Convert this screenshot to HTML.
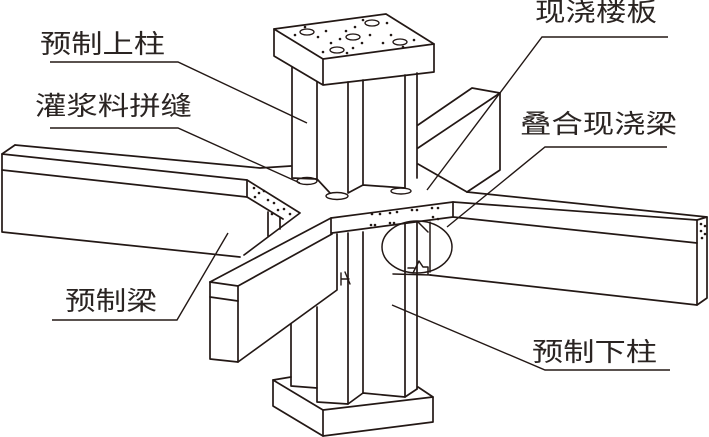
<!DOCTYPE html>
<html><head><meta charset="utf-8"><style>
html,body{margin:0;padding:0;background:#fff;}
svg{display:block;}
text{font-family:"Liberation Sans","Noto Sans CJK SC",sans-serif;fill:#2a2422;}
</style></head><body>
<svg width="709" height="437" viewBox="0 0 709 437" xmlns="http://www.w3.org/2000/svg">
<rect width="709" height="437" fill="#fff"/>
<g stroke="#231815" stroke-width="1.7" fill="none" stroke-linejoin="round" stroke-linecap="round">
<!-- cap -->
<polygon points="274,29 386,14 434,44 323,59"/>
<path d="M274,29 V56 L323,85 L434,72 V44 M323,59 V85"/>
<g stroke-width="1.3">
<ellipse cx="307" cy="32" rx="7" ry="3"/>
<ellipse cx="353" cy="37" rx="7" ry="3"/>
<ellipse cx="372" cy="23" rx="7" ry="3"/>
<ellipse cx="337" cy="50" rx="7" ry="3"/>
<ellipse cx="400" cy="42" rx="7" ry="3"/>
</g>
<!-- upper column -->
<path d="M292,67 V178 L317,179 M317,82 V179 L330,193 M348,82 V193 L363,185 M363,80 V185 L405,188 M405,75 V188 M417,73 V178"/>
<ellipse cx="307" cy="181" rx="10" ry="3.5" stroke-width="1.4"/>
<ellipse cx="337" cy="196" rx="11" ry="3.5" stroke-width="1.4"/>
<ellipse cx="401" cy="191" rx="10" ry="3" stroke-width="1.4"/>
<!-- left beam -->
<path d="M15,145 L260,168 L291,166"/>
<path d="M15,145 L2,154 L247,180 L300,213 L244,255"/>
<path d="M2,154 V232 L240,257"/>
<path d="M2,170 L247,197"/>
<path d="M247,180 V197 L283,219"/>
<path d="M268,212 V236 M280,218 V229"/>
<!-- front-left beam -->
<path d="M210,282 L331,218 V234"/>
<path d="M210,282 L238,286 L332,234"/>
<path d="M210,282 V359 L238,362 V286"/>
<path d="M210,297 L238,301"/>
<path d="M238,362 L337,290 V234"/>
<!-- band on joint -->
<path d="M331,218 L453,202 V217 L332,233"/>
<!-- right beam -->
<path d="M467,192 L707,217 L697,220 L453,202"/>
<path d="M453,217 L697,243"/>
<path d="M430,275 L697,305 L707,298 V217"/>
<path d="M697,220 V305"/>
<!-- back-right beam -->
<path d="M418,125 L472,88 L500,93 V170 L467,192"/>
<path d="M418,148 L500,93"/>
<path d="M418,164 L467,192"/>
<!-- highlight ellipse -->
<ellipse cx="417" cy="247" rx="35" ry="26" stroke-width="1.5"/>
<path d="M430,222 V272 M418,222 L428,232 M393,274 L431,275" stroke-width="1.5"/>
<path d="M413,273 L419,261 L423,267 L428,267 L428,274 M408,268 L414,268" stroke-width="1.5"/>
<!-- lower column -->
<path d="M291,324 V386 L317,388 V402 L348,404 L363,393 L405,397 L417,389"/>
<path d="M317,307 V388 M348,233 V404 M363,232 V393 M405,223 V397 M417,222 V389"/>
<path d="M341,285 V273 M341,279 H349 M345,272 L350,284" stroke-width="1.4"/>
<!-- base plate -->
<path d="M291,377 L273,380 L323,410 L433,397 L418,387"/>
<path d="M273,380 V406 L323,436 L433,422 V397"/>
<path d="M323,410 V436"/>
</g>
<!-- dots -->
<g fill="#231815">
<circle cx="295" cy="35" r="1.3"/><circle cx="318" cy="37" r="1.3"/><circle cx="326" cy="31" r="1.3"/><circle cx="305" cy="27" r="1.3"/>
<circle cx="346" cy="31" r="1.3"/><circle cx="355" cy="27" r="1.3"/><circle cx="362" cy="43" r="1.3"/><circle cx="370" cy="35" r="1.3"/>
<circle cx="387" cy="23" r="1.3"/><circle cx="363" cy="20" r="1.3"/><circle cx="323" cy="52" r="1.3"/><circle cx="331" cy="43" r="1.3"/>
<circle cx="353" cy="48" r="1.3"/><circle cx="347" cy="53" r="1.3"/><circle cx="383" cy="43" r="1.3"/><circle cx="391" cy="35" r="1.3"/>
<circle cx="414" cy="40" r="1.3"/><circle cx="403" cy="47" r="1.3"/><circle cx="340" cy="39" r="1.3"/>
<circle cx="254" cy="188" r="1.3"/><circle cx="259" cy="193" r="1.3"/><circle cx="264" cy="191" r="1.3"/><circle cx="255" cy="197" r="1.3"/>
<circle cx="268" cy="200" r="1.3"/><circle cx="274" cy="203" r="1.3"/><circle cx="278" cy="210" r="1.3"/><circle cx="284" cy="209" r="1.3"/>
<circle cx="272" cy="214" r="1.3"/><circle cx="290" cy="214" r="1.3"/>
<circle cx="372" cy="214" r="1.3"/><circle cx="380" cy="214" r="1.3"/><circle cx="390" cy="213" r="1.3"/><circle cx="397" cy="212" r="1.3"/>
<circle cx="412" cy="210" r="1.3"/><circle cx="417" cy="210" r="1.3"/><circle cx="432" cy="208" r="1.3"/><circle cx="438" cy="208" r="1.3"/>
<circle cx="371" cy="225" r="1.3"/><circle cx="375" cy="225" r="1.3"/><circle cx="390" cy="223" r="1.3"/><circle cx="394" cy="223" r="1.3"/>
<circle cx="433" cy="217" r="1.3"/><circle cx="438" cy="219" r="1.3"/>
<circle cx="701" cy="224" r="1.3"/><circle cx="705" cy="226" r="1.3"/><circle cx="701" cy="231" r="1.3"/><circle cx="705" cy="234" r="1.3"/><circle cx="702" cy="238" r="1.3"/>
</g>
<!-- leaders -->
<g stroke="#231815" stroke-width="1.4" fill="none">
<path d="M50,62 H178 L307,123"/>
<path d="M50,128 H178 L300,183"/>
<path d="M52,320 H177 L228,233"/>
<path d="M427,190 L542,37 H668"/>
<path d="M447,227 L545,147 H667"/>
<path d="M392,305 L545,370 H670"/>
</g>
<!-- labels -->
<g font-size="26">
<text x="40" y="53" textLength="125" lengthAdjust="spacingAndGlyphs">预制上柱</text>
<text x="35" y="115" textLength="157" lengthAdjust="spacingAndGlyphs">灌浆料拼缝</text>
<text x="65" y="310" textLength="92" lengthAdjust="spacingAndGlyphs">预制梁</text>
<text x="535" y="21" textLength="122" lengthAdjust="spacingAndGlyphs">现浇楼板</text>
<text x="520" y="133" textLength="157" lengthAdjust="spacingAndGlyphs">叠合现浇梁</text>
<text x="532" y="361" textLength="125" lengthAdjust="spacingAndGlyphs">预制下柱</text>
</g>
</svg>
</body></html>
